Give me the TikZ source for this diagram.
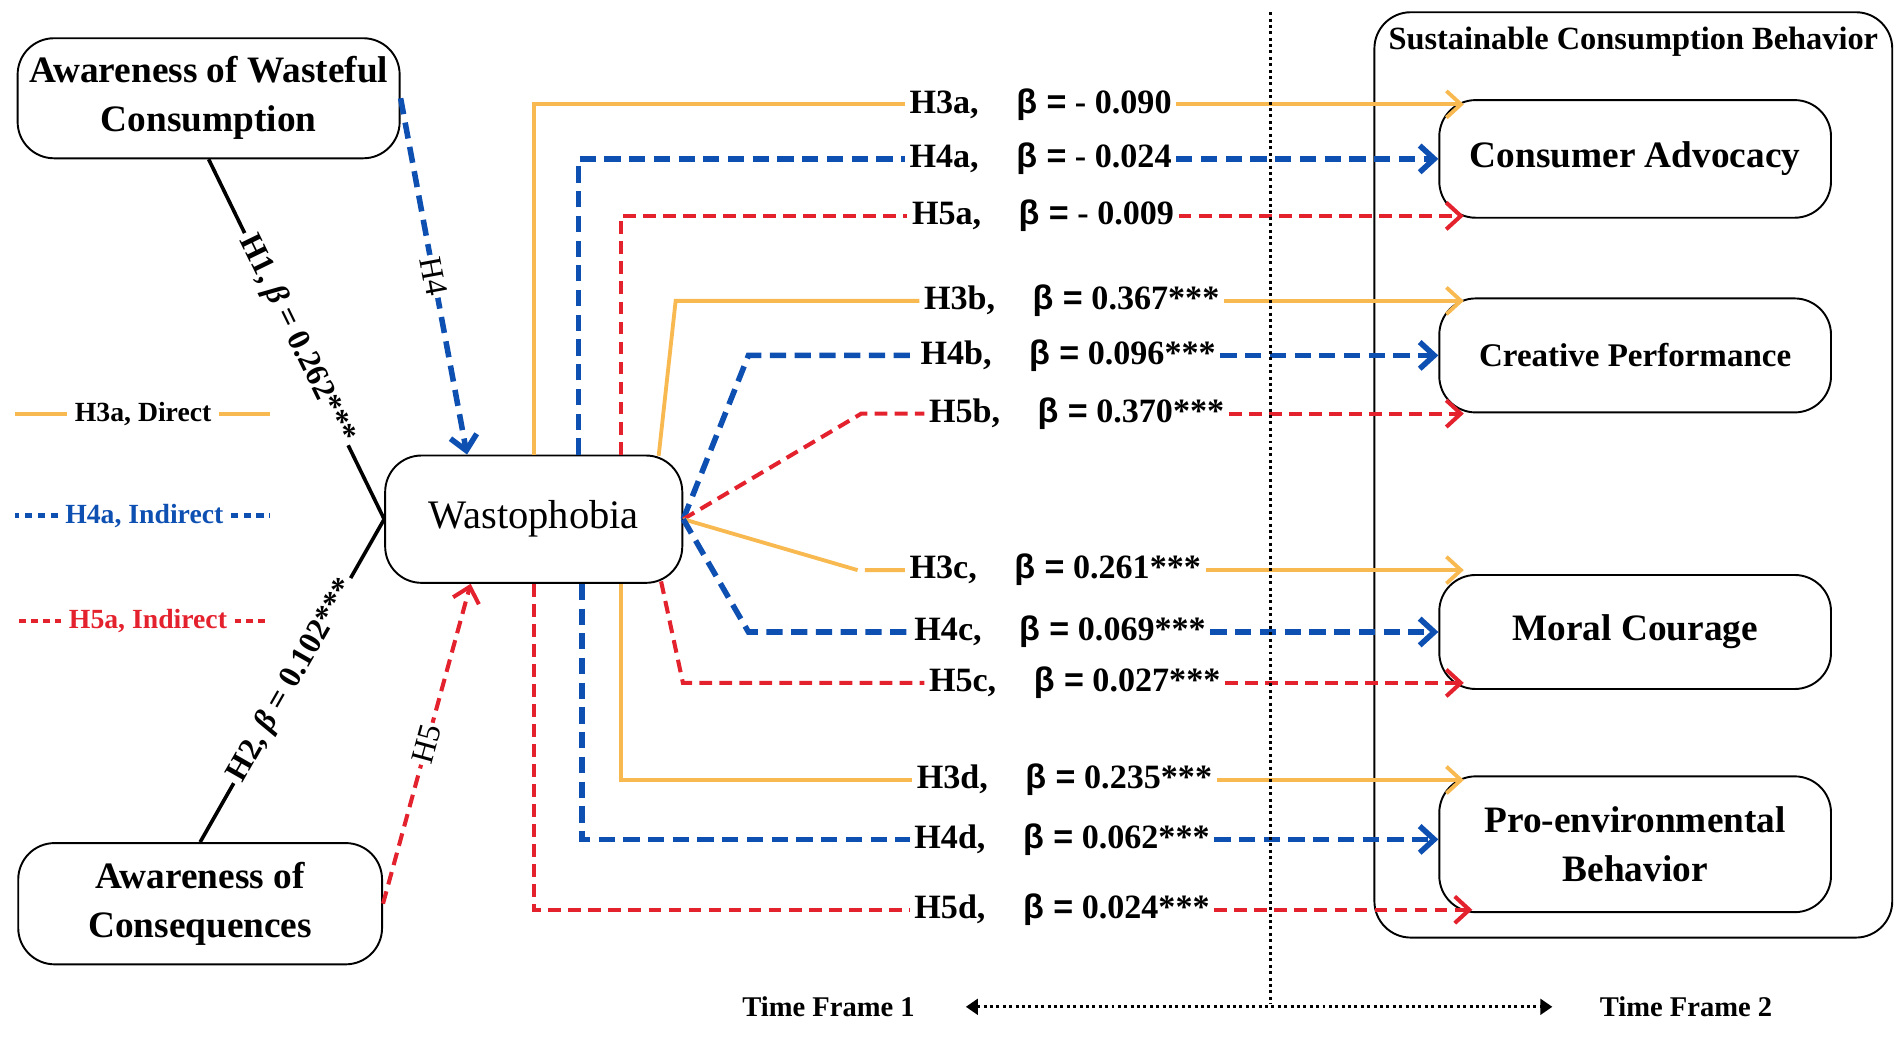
\documentclass[tikz,border=0pt]{standalone}
\usepackage{fontspec}
\setmainfont{Liberation Serif}
\setsansfont{Liberation Sans}
\usetikzlibrary{arrows.meta,calc,positioning}

\definecolor{orng}{RGB}{248,185,80}
\definecolor{blu}{RGB}{14,80,178}
\definecolor{rd}{RGB}{228,34,46}

\newcommand{\betaeq}{{\sffamily β =}}
\newcommand{\boxfont}{\bfseries\fontsize{17.5}{23}\selectfont}

\tikzset{
  box/.style={draw, rounded corners=0.6cm, line width=0.9pt, align=center, inner sep=2pt, font=\boxfont},
  lbl/.style={anchor=west, inner sep=2pt, font=\bfseries\fontsize{16}{19}\selectfont},
  hlbl/.style={sloped, fill=white, inner sep=2pt, font=\bfseries\fontsize{15}{18}\selectfont},
  direct/.style={draw=orng, line width=1.8pt},
  indb/.style={draw=blu, line width=2.6pt, dash pattern=on 7.6pt off 4pt},
  indr/.style={draw=rd, line width=1.9pt, dash pattern=on 6pt off 3.4pt},
  tip/.style={-{Straight Barb[length=2.4mm,width=4.4mm]}},
  dotline/.style={line width=1.4pt, dash pattern=on 1.4pt off 1.6pt}
}

\begin{document}
\begin{tikzpicture}[x=0.02cm,y=-0.02cm]
\useasboundingbox (0,0) rectangle (1568,855.7);

% left hand constructs
\node[box, minimum width=6.3cm, minimum height=1.98cm] (awc) at (172,81) {Awareness of Wasteful\\Consumption};
\node[box, minimum width=6cm, minimum height=2cm] (aoc) at (165,745) {Awareness of\\Consequences};
\node[box, minimum width=4.9cm, minimum height=2.1cm, font=\fontsize{19}{22}\selectfont] (wasto) at (440,428) {Wastophobia};

% outcome block
\node[draw, rounded corners=0.6cm, line width=0.9pt, minimum width=8.54cm, minimum height=15.26cm] (scb) at (1346.5,391.5) {};
\node[below=5pt of scb.north, inner sep=2pt, font=\bfseries\fontsize{15.2}{18}\selectfont] (scbt) {Sustainable Consumption Behavior};
\node[box, minimum width=6.46cm, minimum height=1.94cm] (ca) at (1348,131) {Consumer Advocacy};
\node[box, minimum width=6.46cm, minimum height=1.88cm, font=\bfseries\fontsize{15.5}{18}\selectfont] (cp) at (1348,293) {Creative Performance};
\node[box, minimum width=6.46cm, minimum height=1.88cm] (mc) at (1348,521) {Moral Courage};
\node[box, minimum width=6.46cm, minimum height=2.24cm] (peb) at (1348,696) {Pro-environmental\\Behavior};

% H1, H2, H4, H5
\draw[line width=1.7pt] (awc.south) -- node[hlbl] {H1, \textit{β} = 0.262***} (wasto.west);
\draw[line width=1.7pt] (aoc.north) -- node[hlbl] {H2, \textit{β} = 0.102***} (wasto.west);
\draw[indb, tip] (awc.east) -- node[sloped, fill=white, inner sep=1pt, font=\fontsize{15}{18}\selectfont] {H4} ($(wasto.north)+(-55,0)$);
\draw[indr, tip] (aoc.east) -- node[sloped, fill=white, inner sep=1pt, font=\fontsize{15}{18}\selectfont] {H5} ($(wasto.south)+(-52,0)$);

% path labels
\node[lbl] (l3a) at (746,86) {H3a,\hspace{1.1em}\betaeq{} - 0.090};
\node[lbl] (l4a) at (746,131) {H4a,\hspace{1.1em}\betaeq{} - 0.024};
\node[lbl] (l5a) at (748,178) {H5a,\hspace{1.1em}\betaeq{} - 0.009};
\node[lbl] (l3b) at (758,248) {H3b,\hspace{1.1em}\betaeq{} 0.367***};
\node[lbl] (l4b) at (755,293) {H4b,\hspace{1.1em}\betaeq{} 0.096***};
\node[lbl] (l5b) at (762,341) {H5b,\hspace{1.1em}\betaeq{} 0.370***};
\node[lbl] (l3c) at (746,470) {H3c,\hspace{1.1em}\betaeq{} 0.261***};
\node[lbl] (l4c) at (750,521) {H4c,\hspace{1.1em}\betaeq{} 0.069***};
\node[lbl] (l5c) at (762,563) {H5c,\hspace{1.1em}\betaeq{} 0.027***};
\node[lbl] (l3d) at (752,643) {H3d,\hspace{1.1em}\betaeq{} 0.235***};
\node[lbl] (l4d) at (750,692) {H4d,\hspace{1.1em}\betaeq{} 0.062***};
\node[lbl] (l5d) at (750,750) {H5d,\hspace{1.1em}\betaeq{} 0.024***};

% Consumer Advocacy
\draw[direct] (wasto.north) |- (l3a.west);
\draw[direct, tip] (l3a.east) -- ($(l3a.east -| ca.west)+(21,0)$);
\draw[indb] ($(wasto.north)+(37,0)$) |- (l4a.west);
\draw[indb, tip] (l4a.east) -- (l4a.east -| ca.west);
\draw[indr] ($(wasto.north)+(72,0)$) |- (l5a.west);
\draw[indr, tip] (l5a.east) -- ($(l5a.east -| ca.west)+(21,0)$);

% Creative Performance
\draw[direct] ($(wasto.north)+(103,1)$) -- (557,248) -- (l3b.west);
\draw[direct, tip] (l3b.east) -- ($(l3b.east -| cp.west)+(21,0)$);
\draw[indb] (wasto.east) -- (617,293) -- (l4b.west);
\draw[indb, tip] (l4b.east) -- (l4b.east -| cp.west);
\draw[indr] (wasto.east) -- (710,341) -- (l5b.west);
\draw[indr, tip] (l5b.east) -- ($(l5b.east -| cp.west)+(21,0)$);

% Moral Courage
\draw[direct] (wasto.east) -- (707,470) (713,470) -- (l3c.west);
\draw[direct, tip] (l3c.east) -- ($(l3c.east -| mc.west)+(21,0)$);
\draw[indb] (wasto.east) -- (617,521) -- (l4c.west);
\draw[indb, tip] (l4c.east) -- (l4c.east -| mc.west);
\draw[indr] ($(wasto.south)+(105,-2)$) -- (563,563) -- (l5c.west);
\draw[indr, tip] (l5c.east) -- ($(l5c.east -| mc.west)+(21,0)$);

% Pro-environmental Behavior
\draw[direct] ($(wasto.south)+(72,0)$) |- (l3d.west);
\draw[direct, tip] (l3d.east) -- ($(l3d.east -| peb.west)+(21,0)$);
\draw[indb] ($(wasto.south)+(40,0)$) |- (l4d.west);
\draw[indb, tip] (l4d.east) -- (l4d.east -| peb.west);
\draw[indr] (wasto.south) |- (l5d.west);
\draw[indr, tip] (l5d.east) -- ($(l5d.east -| peb.west)+(28,0)$);

% legend
\node[font=\bfseries\fontsize{13}{15}\selectfont] (leg3) at (118,341) {H3a, Direct};
\draw[direct] (leg3.west) -- ++(-43,0);
\draw[direct] (leg3.east) -- ++(42,0);
\node[blu, font=\bfseries\fontsize{13}{15}\selectfont] (leg4) at (119,425) {H4a, Indirect};
\draw[draw=blu, line width=2.6pt, dash pattern=on 3.4pt off 2.6pt] (leg4.west) -- ++(-35,0);
\draw[draw=blu, line width=2.6pt, dash pattern=on 3.4pt off 2.6pt] (leg4.east) -- ++(32,0);
\node[rd, font=\bfseries\fontsize{13}{15}\selectfont] (leg5) at (122,512) {H5a, Indirect};
\draw[draw=rd, line width=1.8pt, dash pattern=on 3pt off 2.6pt] (leg5.west) -- ++(-38,0);
\draw[draw=rd, line width=1.8pt, dash pattern=on 3pt off 2.6pt] (leg5.east) -- ++(29,0);

% time frames
\draw[dotline] (1047,10) -- (1047,828);
\node[font=\bfseries\fontsize{13.4}{16}\selectfont] (tf1) at (683,830) {Time Frame 1};
\node[font=\bfseries\fontsize{13.4}{16}\selectfont] (tf2) at (1390,830) {Time Frame 2};
\draw[dotline, {Triangle[length=2mm,width=2.6mm]}-{Triangle[length=2mm,width=2.6mm]}, shorten <=0.72cm, shorten >=0.66cm] (tf1.east) -- (tf2.west);

\end{tikzpicture}
\end{document}
